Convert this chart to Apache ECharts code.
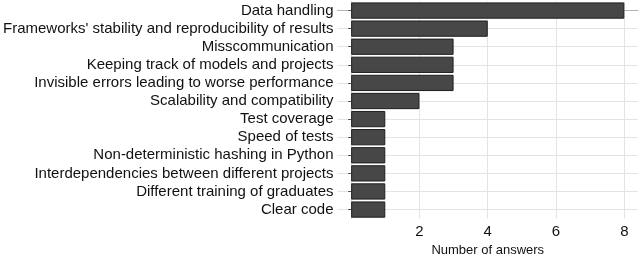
<!DOCTYPE html>
<html><head><meta charset="utf-8">
<script src="https://cdn.jsdelivr.net/npm/echarts@6/dist/echarts.min.js"></script>
<style>html,body{margin:0;padding:0;background:#fff}#c{width:640px;height:262px}</style>
</head><body><div id="c"></div>
<script>
const categories = [
  "Data handling",
  "Frameworks' stability and reproducibility of results",
  "Misscommunication",
  "Keeping track of models and projects",
  "Invisible errors leading to worse performance",
  "Scalability and compatibility",
  "Test coverage",
  "Speed of tests",
  "Non-deterministic hashing in Python",
  "Interdependencies between different projects",
  "Different training of graduates",
  "Clear code"
];
const answers = [8, 4, 3, 3, 3, 2, 1, 1, 1, 1, 1, 1];
const xTicks = [2, 4, 6, 8];
const xLabel = "Number of answers";
const rowPositions = categories.map((c, i) => i);

const chart = echarts.init(document.getElementById('c'), null, {renderer: 'canvas'});
chart.setOption({
  animation: false,
  textStyle: {fontFamily: 'Liberation Sans'},
  grid: {left: 335, right: 2, top: 1.5, height: 229, containLabel: false},
  xAxis: {
    type: 'value', min: -0.4, max: 8.4, offset: 1.5,
    name: xLabel, nameLocation: 'middle', nameGap: 21,
    nameTextStyle: {fontSize: 13, color: '#111', fontFamily: 'Liberation Sans'},
    axisLine: {show: true, lineStyle: {color: '#b3b3b3', width: 1}},
    axisTick: {show: false, customValues: xTicks},
    axisLabel: {customValues: xTicks, fontSize: 15, color: '#111', margin: 4, fontFamily: 'Liberation Sans'},
    splitLine: {show: true, lineStyle: {color: '#e3e3e3', width: 1}}
  },
  yAxis: [{
    type: 'category', data: categories, inverse: true,
    axisLine: {show: true, lineStyle: {color: '#cfcfcf', width: 1}},
    axisTick: {show: true, interval: 0, alignWithLabel: true, length: 3, lineStyle: {color: '#555'}},
    axisLabel: {interval: 0, fontSize: 15, color: '#111', margin: 4, fontFamily: 'Liberation Sans'},
    splitLine: {show: false}
  }, {
    type: 'value', min: -0.5, max: 11.5, inverse: true, position: 'left',
    axisLine: {show: false}, axisLabel: {show: false, customValues: rowPositions},
    axisTick: {show: false, customValues: rowPositions},
    splitLine: {show: true, lineStyle: {color: '#e3e3e3', width: 1}}
  }],
  series: [{
    type: 'bar', data: answers, barCategoryGap: '10%', yAxisIndex: 0,
    itemStyle: {color: '#474747', borderColor: '#1f1f1f', borderWidth: 1}
  }]
});
</script></body></html>
